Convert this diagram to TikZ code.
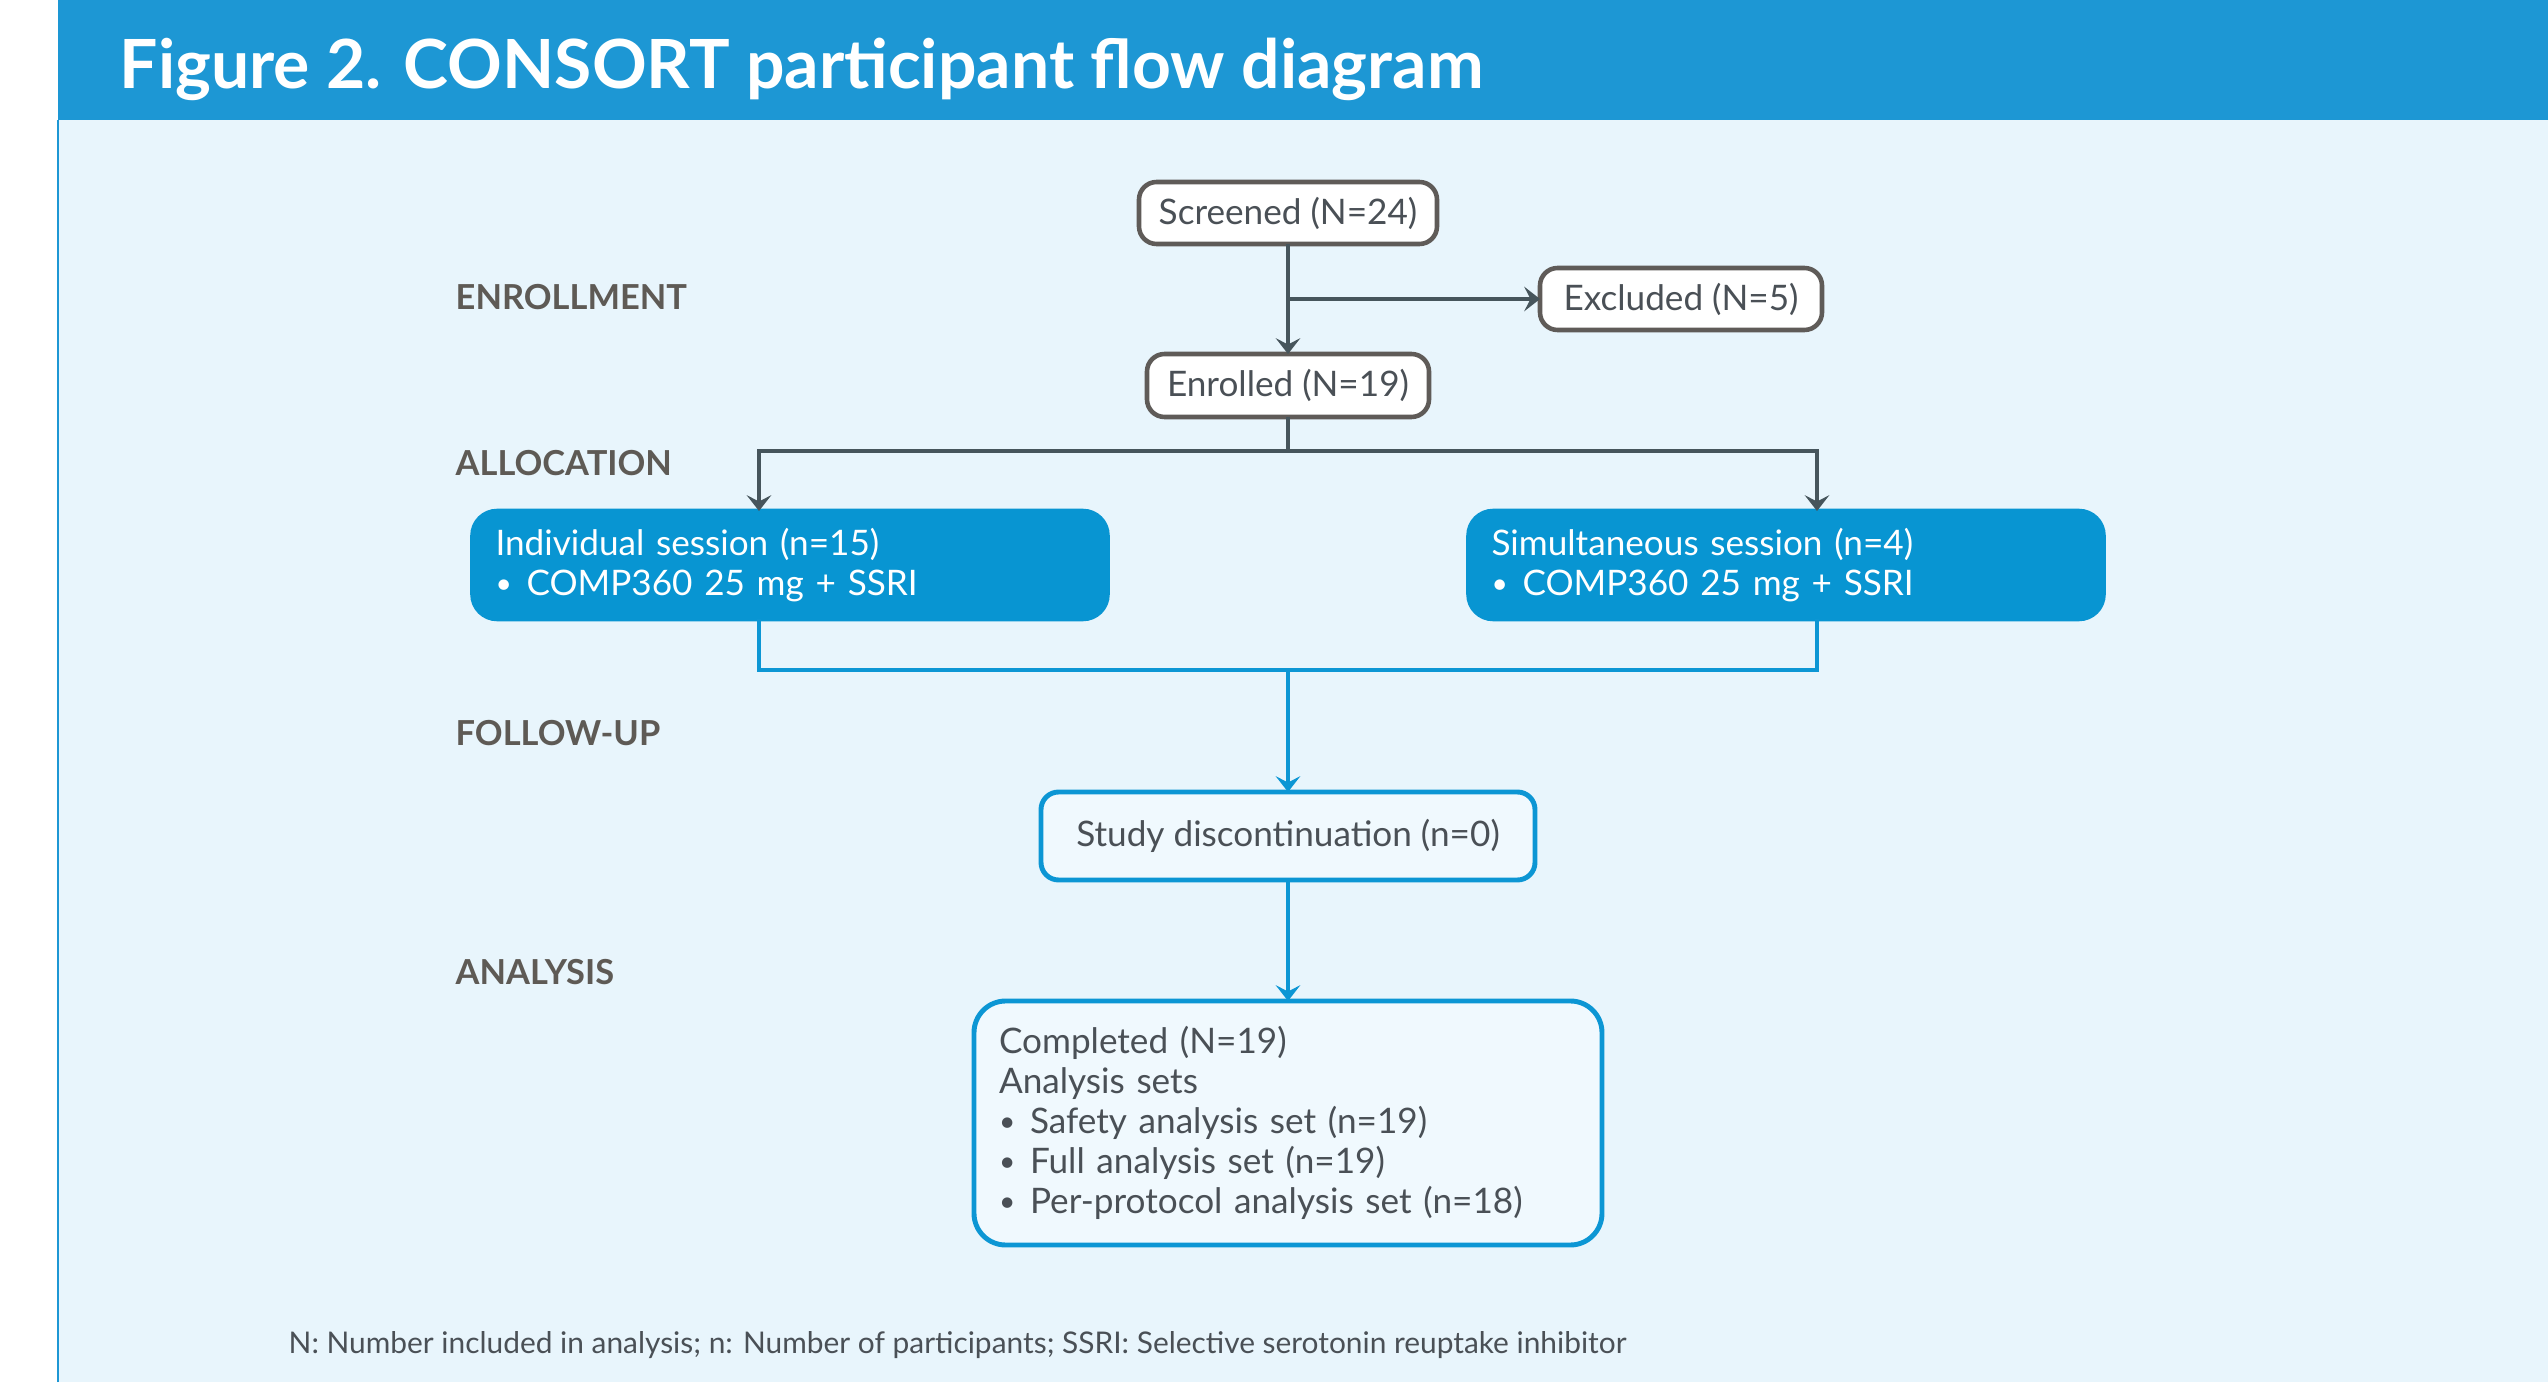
\documentclass[tikz,border=0pt]{standalone}
\usepackage{fontspec}
\setmainfont{Lato}
\usepackage{xcolor}
\definecolor{HeadBlue}{RGB}{29,151,212}
\definecolor{PanelBg}{RGB}{232,245,252}
\definecolor{BoxBlue}{RGB}{8,149,210}
\definecolor{LineBlue}{RGB}{12,150,212}
\definecolor{LineGrey}{RGB}{70,85,92}
\definecolor{EdgeGrey}{RGB}{95,91,88}
\definecolor{TextGrey}{RGB}{74,80,86}
\definecolor{StageGrey}{RGB}{94,90,85}
\definecolor{SoftBg}{RGB}{240,249,254}
\usetikzlibrary{arrows.meta, positioning, calc, backgrounds}
\newcommand{\itemdot}{\makebox[0.31cm][l]{\raisebox{0.5pt}{\fontsize{8}{8}\selectfont\textbullet}}}

\begin{document}
\begin{tikzpicture}[
    node distance=1cm,
    box/.style={rectangle, rounded corners=5pt, draw, line width=1.3pt,
                minimum height=0.65cm, inner sep=0pt, outer sep=0pt,
                font=\fontsize{10}{11.4}\selectfont, text=TextGrey},
    greybox/.style={box, fill=white, draw=EdgeGrey},
    bluebox/.style={box, rounded corners=7pt, fill=BoxBlue, draw=BoxBlue, text=white,
                    minimum width=6.35cm, minimum height=1.08cm, text width=5.89cm, align=left},
    softbox/.style={box, fill=SoftBg, draw=LineBlue, line width=1.4pt},
    stage/.style={anchor=west, inner sep=0pt, font=\fontsize{9.8}{12}\selectfont\bfseries, text=StageGrey},
    greyarr/.style={-{Stealth[length=4.5pt,width=7pt,inset=1.8pt]}, line width=1.2pt, LineGrey},
    bluearr/.style={-{Stealth[length=4.5pt,width=7pt,inset=1.8pt]}, line width=1.2pt, LineBlue},
    blueline/.style={line width=1.2pt, LineBlue}
  ]
    \useasboundingbox (0,0) rectangle (25.48,13.82);

    \node[anchor=base west, inner sep=0pt, font=\fontsize{19.3}{21}\selectfont\bfseries, text=white] (title)
      at (1.19,12.93) {Figure 2. CONSORT participant flow diagram};

    \node[stage] (stenr) at (4.55,10.85) {ENROLLMENT};
    \node[stage] (stall) at (4.55,9.19) {ALLOCATION};
    \node[stage] (stfol) at (4.55,6.49) {FOLLOW-UP};
    \node[stage] (stana) at (4.55,4.10) {ANALYSIS};

    \node[greybox, minimum width=2.98cm, minimum height=0.62cm] (scr) at (12.88,11.69) {Screened (N=24)};
    \node[greybox, minimum width=2.82cm, minimum height=0.63cm, below=1.10cm of scr] (enr) {Enrolled (N=19)};
    \coordinate (split) at ($(scr.south)!0.5!(enr.north)$);
    \node[greybox, minimum width=2.82cm, minimum height=0.62cm, right=2.52cm of split] (exc) {Excluded (N=5)};

    \node[bluebox, below=0.94cm of enr, xshift=-4.98cm] (ind)
      {Individual session (n=15)\\\itemdot COMP360 25 mg + SSRI};
    \node[bluebox, below=0.94cm of enr, xshift=4.98cm] (sim)
      {Simultaneous session (n=4)\\\itemdot COMP360 25 mg + SSRI};
    \coordinate (indin) at ([xshift=-0.31cm]ind.north);
    \coordinate (simin) at ([xshift=0.31cm]sim.north);
    \coordinate (indout) at ([xshift=-0.31cm]ind.south);
    \coordinate (simout) at ([xshift=0.31cm]sim.south);
    \coordinate (join) at ($(indout)!0.5!(simout)+(0,-0.51)$);

    \node[softbox, minimum width=4.94cm, minimum height=0.88cm, below=1.22cm of join] (disc)
      {Study discontinuation (n=0)};
    \node[softbox, rounded corners=9pt, minimum width=6.28cm, minimum height=2.44cm,
          text width=5.78cm, align=left, below=1.21cm of disc] (comp)
      {Completed (N=19)\\Analysis sets\\\itemdot Safety analysis set (n=19)\\
       \itemdot Full analysis set (n=19)\\\itemdot Per-protocol analysis set (n=18)};

    \node[anchor=west, inner sep=0pt, font=\fontsize{8.5}{10}\selectfont, text=TextGrey] (note) at (2.88,0.37)
      {N: Number included in analysis; n: Number of participants; SSRI: Selective serotonin reuptake inhibitor};

    \draw[greyarr](scr)--(enr);
    \draw[greyarr](split)--(exc);
    \draw[greyarr](enr.south)--++(0,-0.34)-|(indin);
    \draw[greyarr](enr.south)--++(0,-0.34)-|(simin);
    \draw[blueline](indout)--++(0,-0.51)-|(simout);
    \draw[bluearr](join)--(disc);
    \draw[bluearr](disc)--(comp);

    \begin{scope}[on background layer]
      \fill[white] (0,0) rectangle (25.48,13.82);
      \fill[PanelBg] (0.58,0) rectangle (25.48,12.62);
      \fill[HeadBlue] (0.58,12.62) rectangle (25.48,13.82);
      \draw[HeadBlue, line width=0.8pt] (0.58,0) -- (0.58,12.62);
    \end{scope}
  \end{tikzpicture}
\end{document}
